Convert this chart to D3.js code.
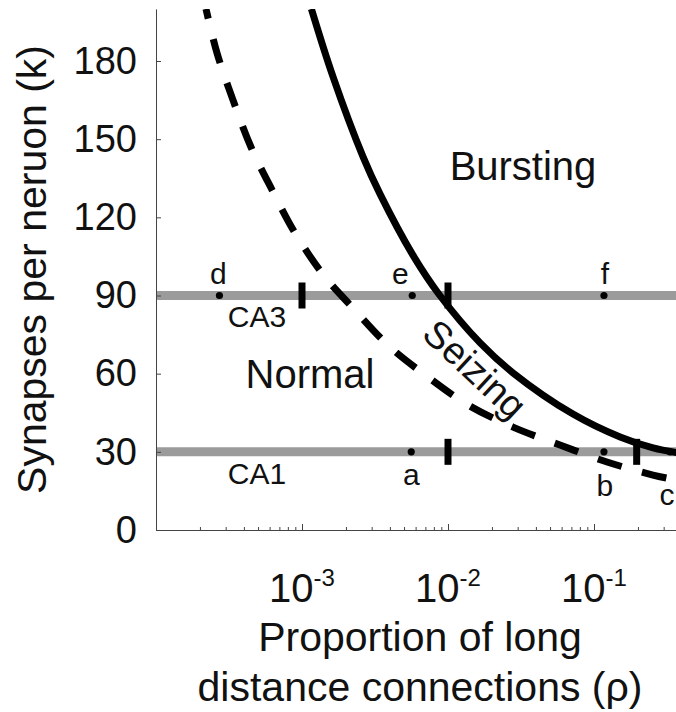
<!DOCTYPE html>
<html>
<head>
<meta charset="utf-8">
<script src="https://cdn.jsdelivr.net/npm/d3@7"></script>
<style>
  html, body { margin: 0; padding: 0; background: #fff; }
  svg { display: block; font-family: "Liberation Sans", Arial, Helvetica, sans-serif; }
</style>
</head>
<body>
<div id="chart"></div>
<script>
// ---------------- data ----------------
// Solid boundary (Bursting / Seizing)
const rhoSolid = [1.16e-3, 1.63e-3, 2.62e-3, 3.42e-3, 5.75e-3, 8.8e-3, 0.0166, 0.0279, 0.0718, 0.151, 0.254, 0.38];
const kSolid   = [200, 174, 143.2, 129, 105.5, 90, 71.8, 60.3, 44.5, 35.7, 31.5, 29.6];
// Dashed boundary (Normal / Seizing)
const rhoDashed = [2.2e-4, 2.62e-4, 3.37e-4, 4.47e-4, 6.24e-4, 8.96e-4, 1.42e-3, 2.2e-3, 4.01e-3, 7.3e-3, 0.0137, 0.0279, 0.0585, 0.1228, 0.2535, 0.38];
const kDashed   = [200, 183, 165, 147, 130.5, 114, 97.5, 85.6, 70.2, 58.7, 48, 39.5, 32.6, 26.1, 21.1, 19];
// Horizontal reference levels
const levelK      = [90, 30];
const levelLabels = ["CA3", "CA1"];
// Thick vertical markers on the levels
const barRho = [1e-3, 1e-2, 1e-2, 0.196];
const barK   = [90, 90, 30, 30];
// Labelled points
const ptLabels = ["d", "e", "f", "a", "b", "c"];
const ptRho    = [2.72e-4, 5.69e-3, 0.117, 5.6e-3, 0.117, 0.332];
const ptK      = [90, 90, 90, 30, 30, 30];
// Axis ticks
const yTicks   = [0, 30, 60, 90, 120, 150, 180];
const xDecades = [1e-4, 1e-3, 1e-2, 1e-1, 1];
const xLabelExps = [-3, -2, -1];
const regionLabels = ["Bursting", "Normal", "Seizing"];

// ---------------- layout ----------------
const W = 676, H = 712;
const x = d3.scaleLog().domain([1e-4, 1]).range([156, 740]);
const y = d3.scaleLinear().domain([0, 200]).range([530, 8.9]);

const svg = d3.select("#chart").append("svg").attr("width", W).attr("height", H);

svg.append("defs").append("clipPath").attr("id", "plotclip")
  .append("rect").attr("x", x.range()[0]).attr("y", y(200))
  .attr("width", x.range()[1] - x.range()[0]).attr("height", y(0) - y(200));

// gray level lines
svg.append("g").selectAll("line").data(levelK).join("line")
  .attr("x1", x(1e-4)).attr("x2", x(1))
  .attr("y1", d => y(d)).attr("y2", d => y(d))
  .attr("stroke", "#9b9b9b").attr("stroke-width", 9);

// axes
const yAxis = d3.axisLeft(y).tickValues(yTicks).tickSizeInner(-5).tickSizeOuter(0).tickPadding(19);
const gy = svg.append("g").attr("transform", `translate(${x.range()[0]},0)`).call(yAxis);
gy.select(".domain").attr("stroke", "#444");
gy.selectAll(".tick line").attr("stroke", "#444");
gy.selectAll(".tick text").attr("fill", "#111").style("font-size", "38px")
  .style("font-family", "Liberation Sans, Arial, sans-serif");

const xTickVals = [];
xDecades.slice(0, -1).forEach(d => { for (let m = 1; m <= 9; m++) xTickVals.push(d * m); });
xTickVals.push(1);
const xAxis = d3.axisBottom(x).tickValues(xTickVals).tickSizeOuter(0).tickFormat("")
  .tickSizeInner(-3);
const gx = svg.append("g").attr("transform", `translate(0,${y(0)})`).call(xAxis);
gx.select(".domain").attr("stroke", "#444");
gx.selectAll(".tick line").attr("stroke", "#444")
  .attr("y2", d => (Math.abs(Math.log10(d) - Math.round(Math.log10(d))) < 1e-9) ? -6 : -3);

// x tick labels 10^-n
const xl = svg.append("g").attr("transform", `translate(0,${y(0)})`);
xLabelExps.forEach(e => {
  const t = xl.append("text").attr("x", x(Math.pow(10, e))).attr("y", 72)
    .attr("text-anchor", "middle").attr("fill", "#111").style("font-size", "40px");
  t.append("tspan").text("10");
  t.append("tspan").attr("dy", "-0.66em").style("font-size", "24px").text(String(e));
});

// axis titles
svg.append("text").attr("transform", `translate(46,${(y(0) + y(200)) / 2}) rotate(-90)`)
  .attr("text-anchor", "middle").attr("fill", "#111").style("font-size", "41px")
  .text("Synapses per neruon (k)");
svg.append("text").attr("x", 420).attr("y", 651).attr("text-anchor", "middle")
  .attr("fill", "#111").style("font-size", "41px").text("Proportion of long");
svg.append("text").attr("x", 420).attr("y", 701).attr("text-anchor", "middle")
  .attr("fill", "#111").style("font-size", "41px").text("distance connections (\u03C1)");

// curves
const plot = svg.append("g").attr("clip-path", "url(#plotclip)");
const lineGen = d3.line().x(d => x(d[0])).y(d => y(d[1])).curve(d3.curveCatmullRom.alpha(0.5));

plot.append("path").datum(rhoDashed.map((r, i) => [r, kDashed[i]]))
  .attr("d", lineGen).attr("fill", "none").attr("stroke", "#000")
  .attr("stroke-width", 7).attr("stroke-dasharray", "25,21").attr("stroke-dashoffset", 15);

plot.append("path").datum(rhoSolid.map((r, i) => [r, kSolid[i]]))
  .attr("d", lineGen).attr("fill", "none").attr("stroke", "#000").attr("stroke-width", 7);

// markers
plot.append("g").selectAll("line").data(barRho.map((r, i) => [r, barK[i]])).join("line")
  .attr("x1", d => x(d[0])).attr("x2", d => x(d[0]))
  .attr("y1", d => y(d[1]) - 13).attr("y2", d => y(d[1]) + 13)
  .attr("stroke", "#000").attr("stroke-width", 7);

// points
plot.append("g").selectAll("circle").data(ptRho.map((r, i) => [r, ptK[i]])).join("circle")
  .attr("cx", d => x(d[0])).attr("cy", d => y(d[1])).attr("r", 3.6).attr("fill", "#000");

// point labels (offsets are layout only)
const ptOff = [[-1, -11.5], [-12, -11.5], [1, -11.5], [0, 33], [1, 44], [-3, 53]];
svg.append("g").selectAll("text").data(ptLabels).join("text")
  .attr("x", (d, i) => x(ptRho[i]) + ptOff[i][0])
  .attr("y", (d, i) => y(ptK[i]) + ptOff[i][1])
  .attr("text-anchor", "middle").attr("fill", "#111").style("font-size", "30px").text(d => d);

// level labels
const lvlOff = [31.5, 32];
svg.append("g").selectAll("text").data(levelLabels).join("text")
  .attr("x", 257).attr("y", (d, i) => y(levelK[i]) + lvlOff[i])
  .attr("text-anchor", "middle").attr("fill", "#111").style("font-size", "30px").text(d => d);

// region labels
svg.append("text").attr("x", 523).attr("y", 180).attr("text-anchor", "middle")
  .attr("fill", "#111").style("font-size", "40px").text(regionLabels[0]);
svg.append("text").attr("x", 310).attr("y", 388).attr("text-anchor", "middle")
  .attr("fill", "#111").style("font-size", "40px").text(regionLabels[1]);
svg.append("text").attr("transform", "translate(475,369) rotate(43)")
  .attr("text-anchor", "middle").attr("dy", "0.35em")
  .attr("fill", "#111").style("font-size", "38px").text(regionLabels[2]);
</script>
</body>
</html>
